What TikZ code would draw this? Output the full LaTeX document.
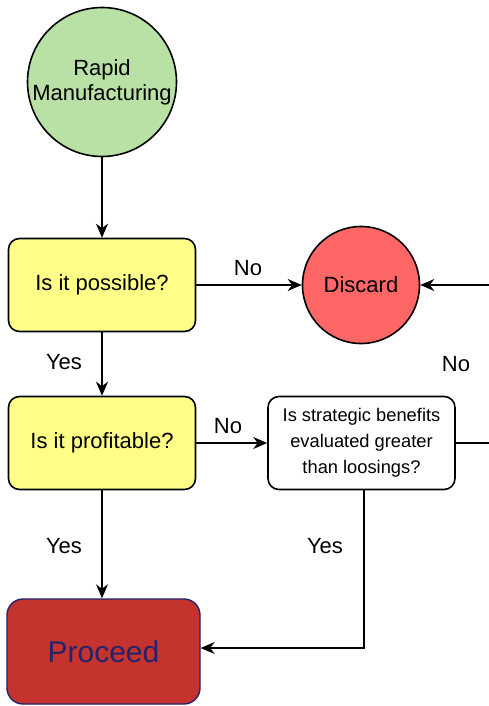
\documentclass[tikz,border=0pt]{standalone}
\usepackage{fontspec}
\setmainfont{Liberation Sans}
\usetikzlibrary{arrows.meta}
\definecolor{startgreen}{HTML}{B9E0A5}
\definecolor{askyellow}{HTML}{FFFF88}
\definecolor{dropred}{HTML}{FF6666}
\definecolor{gored}{HTML}{C4332D}
\definecolor{navy}{HTML}{24246A}
\tikzset{
  x=1pt, y=-1pt,
  every node/.style={font=\fontsize{22}{25}\selectfont, text=black},
  circ/.style={circle, draw=black, line width=1.6pt, inner sep=0pt},
  question/.style={rectangle, rounded corners=11pt, draw=black, line width=1.6pt,
    fill=askyellow, minimum width=187pt, minimum height=93pt},
  conn/.style={draw=black, line width=1.6pt, -{Stealth[length=14pt,width=12pt,inset=4.5pt]}},
  plain/.style={draw=black, line width=1.6pt},
  lbl/.style={inner sep=0pt}
}
\begin{document}
\begin{tikzpicture}
\useasboundingbox (0,0) rectangle (488,706);
% start and discard terminals
\node[circ, fill=startgreen, minimum size=149pt, align=center] (start) at (102,82) {Rapid\\Manufacturing};
\node[circ, fill=dropred, minimum size=117pt] (discard) at (361,285) {Discard};
% decision boxes
\node[question] (possible) at (102,285) {Is it possible?};
\node[question] (profit) at (102,443) {Is it profitable?};
\node[rectangle, rounded corners=11pt, draw=black, line width=1.6pt, fill=white,
      minimum width=187pt, minimum height=93pt, align=center,
      font=\fontsize{18.3}{26}\selectfont] (strategic) at (361.5,443)
      {Is strategic benefits\\evaluated greater\\than loosings?};
% outcome
\node[rectangle, rounded corners=16pt, draw=navy, line width=1.4pt, fill=gored,
      minimum width=193pt, minimum height=105pt,
      font=\fontsize{30}{34}\selectfont, text=navy] (proceed) at (103.5,651.5) {\raisebox{-3pt}{Proceed}};
% loose ends leaving the frame on the right
\coordinate (edgeA) at (490,285);
\coordinate (edgeB) at (490,443);
\coordinate (bend) at (364,648);
% connectors
\draw[conn] (start) -- (possible);
\draw[conn] (possible) -- (discard);
\draw[conn] (possible) -- (profit);
\draw[conn] (profit) -- (strategic);
\draw[conn] (profit) -- (profit |- proceed.north);
\draw[plain] (strategic.east) -- (edgeB);
\draw[conn] (edgeA) -- (discard);
\draw[conn] (strategic.south -| bend) -- (bend) -- (proceed.east |- bend);
% labels
\node[lbl] (l1) at (248,268) {No};
\node[lbl] (l2) at (64,362) {Yes};
\node[lbl] (l3) at (228,426) {No};
\node[lbl] (l4) at (64,546) {Yes};
\node[lbl] (l5) at (325,546) {Yes};
\node[lbl] (l6) at (456,364) {No};
\end{tikzpicture}
\end{document}
